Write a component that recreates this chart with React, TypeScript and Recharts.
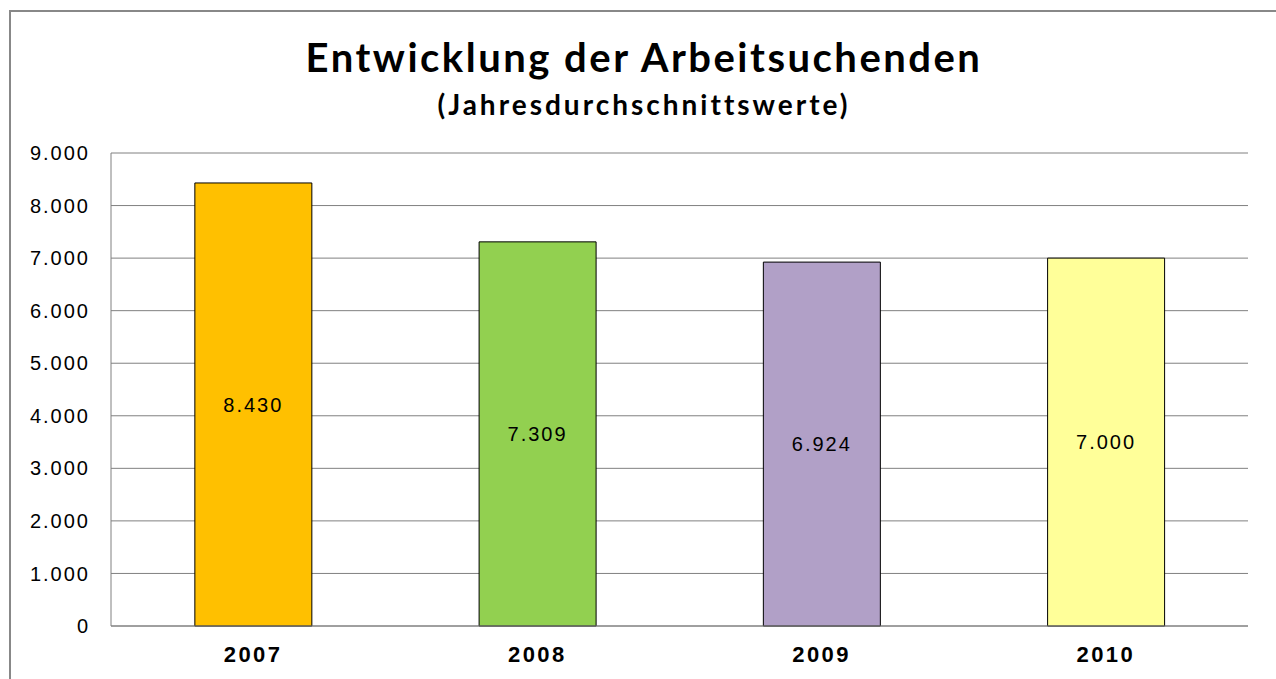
import React from 'react';
import {
  BarChart,
  Bar,
  Cell,
  XAxis,
  YAxis,
  CartesianGrid,
  LabelList,
} from 'recharts';

const years = ['2007', '2008', '2009', '2010'];
const jobseekers = [8430, 7309, 6924, 7000];
const barColors = ['#FFC000', '#92D050', '#B1A0C7', '#FFFF99'];
const yTicks = [0, 1000, 2000, 3000, 4000, 5000, 6000, 7000, 8000, 9000];

const data = years.map((year, i) => ({ year, value: jobseekers[i] }));

const fmt = (v: number) => v.toLocaleString('de-DE');

const App: React.FC = () => {
  return (
    <div
      style={{
        position: 'absolute',
        left: 0,
        top: 0,
        width: 1276,
        height: 679,
        overflow: 'hidden',
        background: '#fff',
      }}
    >
      <div
        style={{
          position: 'absolute',
          left: 9,
          top: 10,
          width: 1290,
          height: 700,
          borderLeft: '2px solid #888',
          borderTop: '2px solid #888',
        }}
      />
      <div
        style={{
          position: 'absolute',
          left: 0,
          top: 36,
          width: 1288,
          textAlign: 'center',
          fontFamily: 'Lato',
          fontWeight: 700,
          fontSize: 40,
          letterSpacing: 2.5,
          lineHeight: '42px',
        }}
      >
        Entwicklung der Arbeitsuchenden
      </div>
      <div
        style={{
          position: 'absolute',
          left: 0,
          top: 88,
          width: 1288,
          textAlign: 'center',
          fontFamily: 'Lato',
          fontWeight: 700,
          fontSize: 28,
          letterSpacing: 3,
          lineHeight: '32px',
        }}
      >
        (Jahresdurchschnittswerte)
      </div>
      <div style={{ position: 'absolute', left: 0, top: 0 }}>
        <BarChart
          width={1276}
          height={679}
          data={data}
          margin={{ top: 153, right: 28, bottom: 0, left: 11 }}
          barCategoryGap="29.5%"
        >
          <CartesianGrid vertical={false} stroke="#808080" strokeWidth={1} />
          <XAxis
            dataKey="year"
            axisLine={{ stroke: '#808080' }}
            tickLine={false}
            tickSize={0}
            tickMargin={20}
            height={53}
            tick={{
              fontFamily: 'Liberation Sans',
              fontWeight: 700,
              fontSize: 22,
              letterSpacing: 2.5,
              fill: '#000',
            }}
          />
          <XAxis
            xAxisId="top"
            dataKey="year"
            orientation="top"
            height={0}
            tick={false}
            tickLine={false}
            axisLine={{ stroke: '#000' }}
          />
          <YAxis
            width={100}
            domain={[0, 9000]}
            ticks={yTicks}
            tickFormatter={fmt}
            axisLine={{ stroke: '#808080' }}
            tickLine={false}
            tickSize={0}
            tickMargin={21}
            tick={{
              fontFamily: 'Liberation Sans',
              fontSize: 20,
              letterSpacing: 2,
              fill: '#000',
            }}
          />
          <YAxis
            yAxisId="right"
            orientation="right"
            width={0}
            domain={[0, 9000]}
            tick={false}
            tickLine={false}
            axisLine={{ stroke: '#000' }}
          />
          <Bar dataKey="value" stroke="#000" strokeWidth={1} isAnimationActive={false}>
            {data.map((d, i) => (
              <Cell key={d.year} fill={barColors[i]} />
            ))}
            <LabelList
              dataKey="value"
              position="center"
              formatter={(v: any) => fmt(Number(v))}
              style={{
                fontFamily: 'Liberation Sans',
                fontSize: 20,
                letterSpacing: 2,
                fill: '#000',
              }}
            />
          </Bar>
        </BarChart>
      </div>
    </div>
  );
};

export default App;
